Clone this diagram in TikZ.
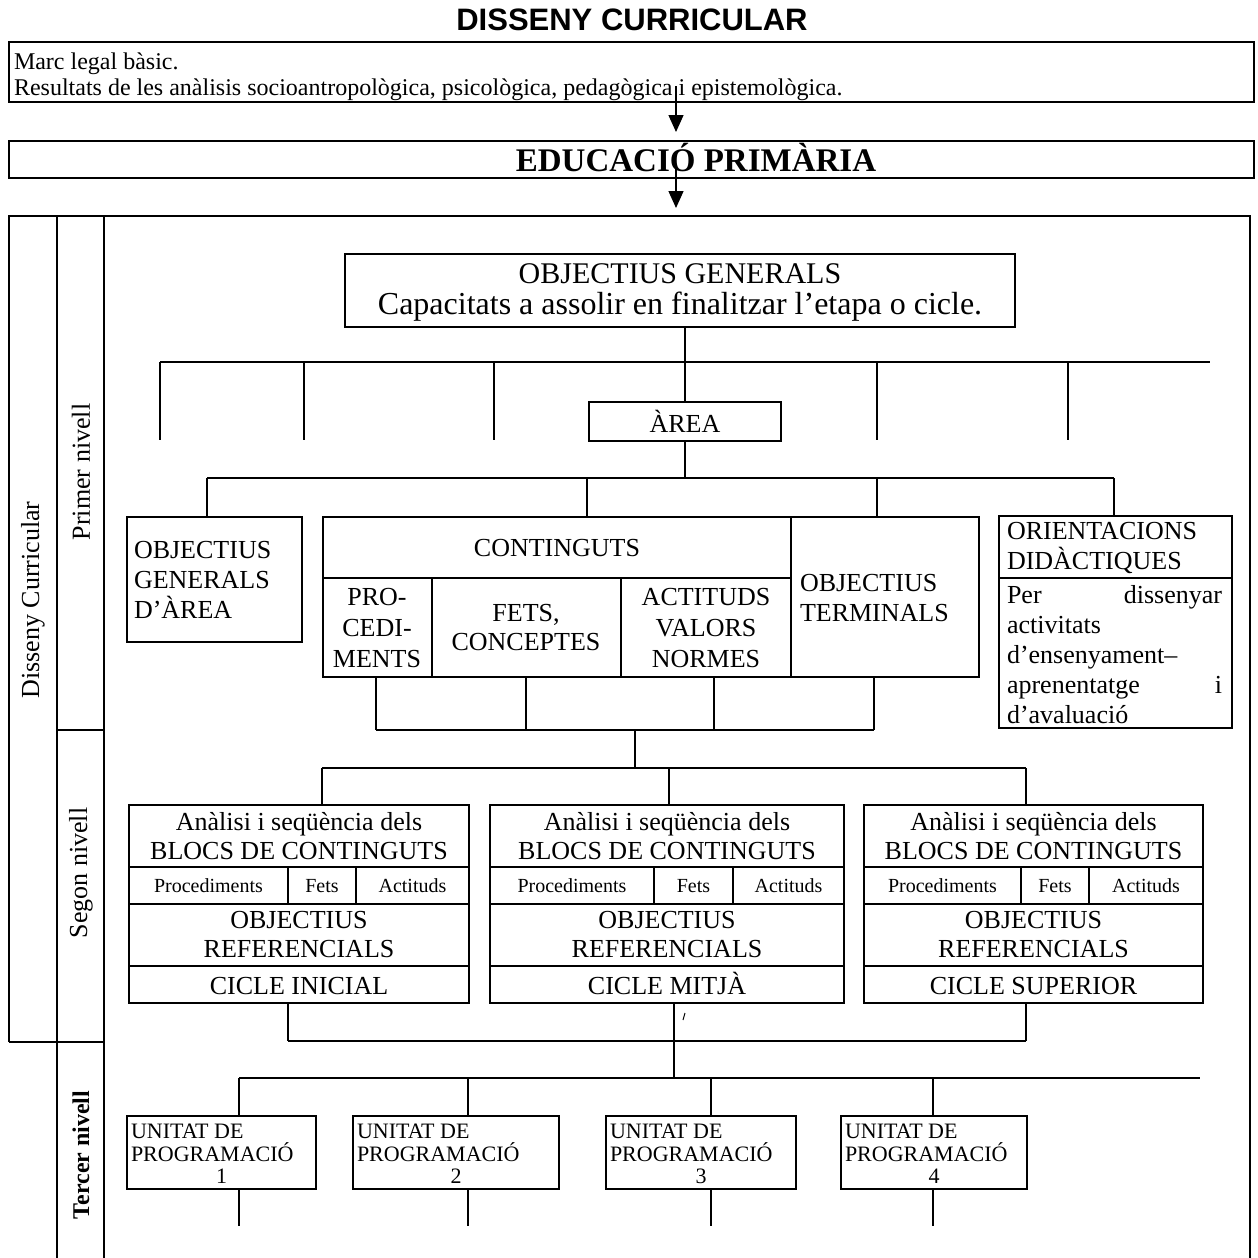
\documentclass[tikz,border=0pt]{standalone}
\usepackage{fontspec}
\usepackage{graphicx}
\setmainfont{Liberation Serif}
\newfontfamily\headsans{Liberation Sans}
\usetikzlibrary{arrows.meta}
\newcommand{\fsz}[2]{\fontsize{#1}{#2}\selectfont}

\tikzset{
  every node/.style={inner sep=0pt, outer sep=0pt},
  box/.style={draw, rectangle, anchor=north west, line width=1.4pt},
  txt/.style={font=\fsz{26}{30}},
  mtxt/.style={font=\fsz{26}{29}, align=center},
  small/.style={font=\fsz{20}{24}},
  unit/.style={font=\fsz{22}{23}},
  side/.style={rotate=90, font=\fsz{26}{30}},
  flow/.style={line width=1.4pt, -{Triangle[length=17pt,width=15pt]}},
}

% one cycle block: name, left x, width, first divider, second divider, cycle name
\newcommand{\cyclebox}[6]{%
  \node[box, minimum width=#3, minimum height=198] (#1) at (#2,805) {};
  \draw (#2,867) -- ({#2+#3},867);
  \draw (#2,904) -- ({#2+#3},904);
  \draw (#2,966) -- ({#2+#3},966);
  \draw (#4,867) -- (#4,904);
  \draw (#5,867) -- (#5,904);
  \node[mtxt] (#1-head) at ({#2+#3/2},836) {Anàlisi i seqüència dels\\BLOCS DE CONTINGUTS};
  \node[small, anchor=base] (#1-p) at ({(#2+#4)/2},892) {Procediments};
  \node[small, anchor=base] (#1-f) at ({(#4+#5)/2},892) {Fets};
  \node[small, anchor=base] (#1-a) at ({(#5+#2+#3)/2},892) {Actituds};
  \node[mtxt] (#1-obj) at ({#2+#3/2},935) {OBJECTIUS\\REFERENCIALS};
  \node[txt, anchor=base] (#1-cyc) at ({#2+#3/2},994) {#6};
}

% one programming unit: name, left x, width, number
\newcommand{\unitbox}[4]{%
  \node[box, minimum width=#3, minimum height=73] (#1) at (#2,1116) {};
  \node[unit, anchor=base west] (#1-a) at ({#2+4},1138) {UNITAT DE};
  \node[unit, anchor=base west] (#1-b) at ({#2+4},1161) {PROGRAMACIÓ};
  \node[unit, anchor=base] (#1-n) at ({#2+#3/2},1183) {#4};
}

\begin{document}
\begin{tikzpicture}[x=1pt,y=-1pt,line width=1.4pt]
\useasboundingbox (0,0) rectangle (1258,1258);
\fill[white] (0,0) rectangle (1258,1258);

% heading
\node[font=\headsans\bfseries\fsz{31}{34}] (title) at (632,20) {DISSENY CURRICULAR};

% legal framework
\node[box, minimum width=1245, minimum height=60] (legal) at (9,42) {};
\node[font=\fsz{24}{28}, anchor=base west] (legal1) at (14,69) {Marc legal bàsic.};
\node[font=\fsz{24}{28}, anchor=base west] (legal2) at (14,95) {Resultats de les anàlisis socioantropològica, psicològica, pedagògica i epistemològica.};

% stage
\node[box, minimum width=1245, minimum height=37] (edu) at (9,141) {};
\node[font=\bfseries\fsz{33}{36}, anchor=base] (edut) at (696,171) {EDUCACIÓ PRIMÀRIA};

\coordinate (arr1) at (676,86);
\draw[flow, shorten >=9pt] (arr1) -- (arr1 |- edu.north);
\coordinate (arr2) at (676,168);
\coordinate (frametop) at (676,216);
\draw[flow, shorten >=8pt] (arr2) -- (frametop);

% outer frame and level columns
\draw (9,1042) -- (9,216) -- (1250,216) -- (1250,1258);
\draw (57,216) -- (57,1258);
\draw (104,216) -- (104,1258);
\draw (57,730) -- (104,730);
\draw (9,1042) -- (104,1042);

\node[side] (lbl-dc) at (33,600) {Disseny Curricular};
\node[side] (lbl-p) at (81,472) {Primer nivell};
\node[side] (lbl-s) at (81,873) {Segon nivell};
\node[side, font=\bfseries\fsz{24}{28}] (lbl-t) at (81,1155) {Tercer nivell};

% general objectives
\node[box, minimum width=670, minimum height=73] (og) at (345,254) {};
\node[font=\fsz{30}{30}, anchor=base] (og-t) at (680,283) {OBJECTIUS GENERALS};
\node[font=\fsz{32}{32}, anchor=base] (og-c) at (680,314) {Capacitats a assolir en finalitzar l’etapa o cicle.};

% area bus
\coordinate (bus1w) at (160,362);
\coordinate (bus1e) at (1210,362);
\draw (bus1w) -- (bus1e);
\foreach \x in {160,304,494,877,1068} {
  \coordinate (t) at (\x,362);
  \draw (t) -- ++(0,78);
}

\node[box, minimum width=192, minimum height=39, txt] (area) at (589,402) {ÀREA};
\draw (og.south -| area.north) -- (area.north);

\coordinate (bus2) at (685,478);
\draw (area.south) -- (bus2);
\draw (207,478) -- (1114,478);

% area components
\node[box, minimum width=175, minimum height=125, txt, align=left, text width=161, inner xsep=7pt] (ogd) at (127,517)
  {OBJECTIUS\\GENERALS\\D’ÀREA};

\node[box, minimum width=656, minimum height=160] (cont) at (323,517) {};
\draw (323,578) -- (791,578);
\draw (791,517) -- (791,677);
\draw (432,578) -- (432,677);
\draw (621,578) -- (621,677);
\node[txt] (cont-h) at (557,548) {CONTINGUTS};
\node[mtxt, font=\fsz{26}{31}] (proc) at (377,628) {PRO-\\CEDI-\\MENTS};
\node[mtxt] (fets) at (526,628) {FETS,\\CONCEPTES};
\node[mtxt, font=\fsz{26}{31}] (act) at (706,628) {ACTITUDS\\VALORS\\NORMES};
\node[txt, align=left, anchor=west] (ot) at (800,598) {OBJECTIUS\\TERMINALS};

\node[box, minimum width=233, minimum height=212] (orient) at (999,516) {};
\draw (999,578) -- (1232,578);
\node[txt, align=left, anchor=west] (orient-h) at (1007,548) {ORIENTACIONS\\DIDÀCTIQUES};
\node[txt, align=left, text width=215, anchor=west] (orient-b) at (1007,655)
  {Per \hfill dissenyar\\activitats\\d’ensenyament–\\aprenentatge \hfill i\\d’avaluació};

\foreach \x/\n in {207/ogd,587/cont,877/cont,1114/orient} {
  \coordinate (d) at (\x,478);
  \draw (d) -- (d |- \n.north);
}

% contents to cycles
\foreach \x in {376,526,714,874} {
  \coordinate (u) at (\x,730);
  \draw (u |- cont.south) -- (u);
}
\coordinate (bus3) at (635,730);
\coordinate (bus4) at (635,768);
\draw (376,730) -- (874,730);
\draw (bus3) -- (bus4);
\draw (322,768) -- (1026,768);

\cyclebox{c1}{129}{340}{288}{356}{CICLE INICIAL}
\cyclebox{c2}{490}{354}{654}{733}{CICLE MITJÀ}
\cyclebox{c3}{864}{339}{1021}{1089}{CICLE SUPERIOR}

\foreach \x/\n in {322/c1,669/c2,1026/c3} {
  \coordinate (d) at (\x,768);
  \draw (d) -- (d |- \n.north);
}
\foreach \x/\n in {288/c1,674/c2,1026/c3} {
  \coordinate (d) at (\x,1041);
  \draw (d |- \n.south) -- (d);
}
\draw (288,1041) -- (1026,1041);
\coordinate (bus5) at (674,1041);
\coordinate (bus6) at (674,1078);
\draw (bus5) -- (bus6);
\draw[line width=1pt] (685,1013) -- (683,1020);

% programming units
\draw (239,1078) -- (1200,1078);
\unitbox{u1}{127}{189}{1}
\unitbox{u2}{353}{206}{2}
\unitbox{u3}{606}{190}{3}
\unitbox{u4}{841}{186}{4}
\foreach \x/\n in {239/u1,468/u2,711/u3,933/u4} {
  \coordinate (d) at (\x,1078);
  \draw (d) -- (d |- \n.north);
  \coordinate (e) at (\x,1226);
  \draw (e |- \n.south) -- (e);
}
\end{tikzpicture}
\end{document}
